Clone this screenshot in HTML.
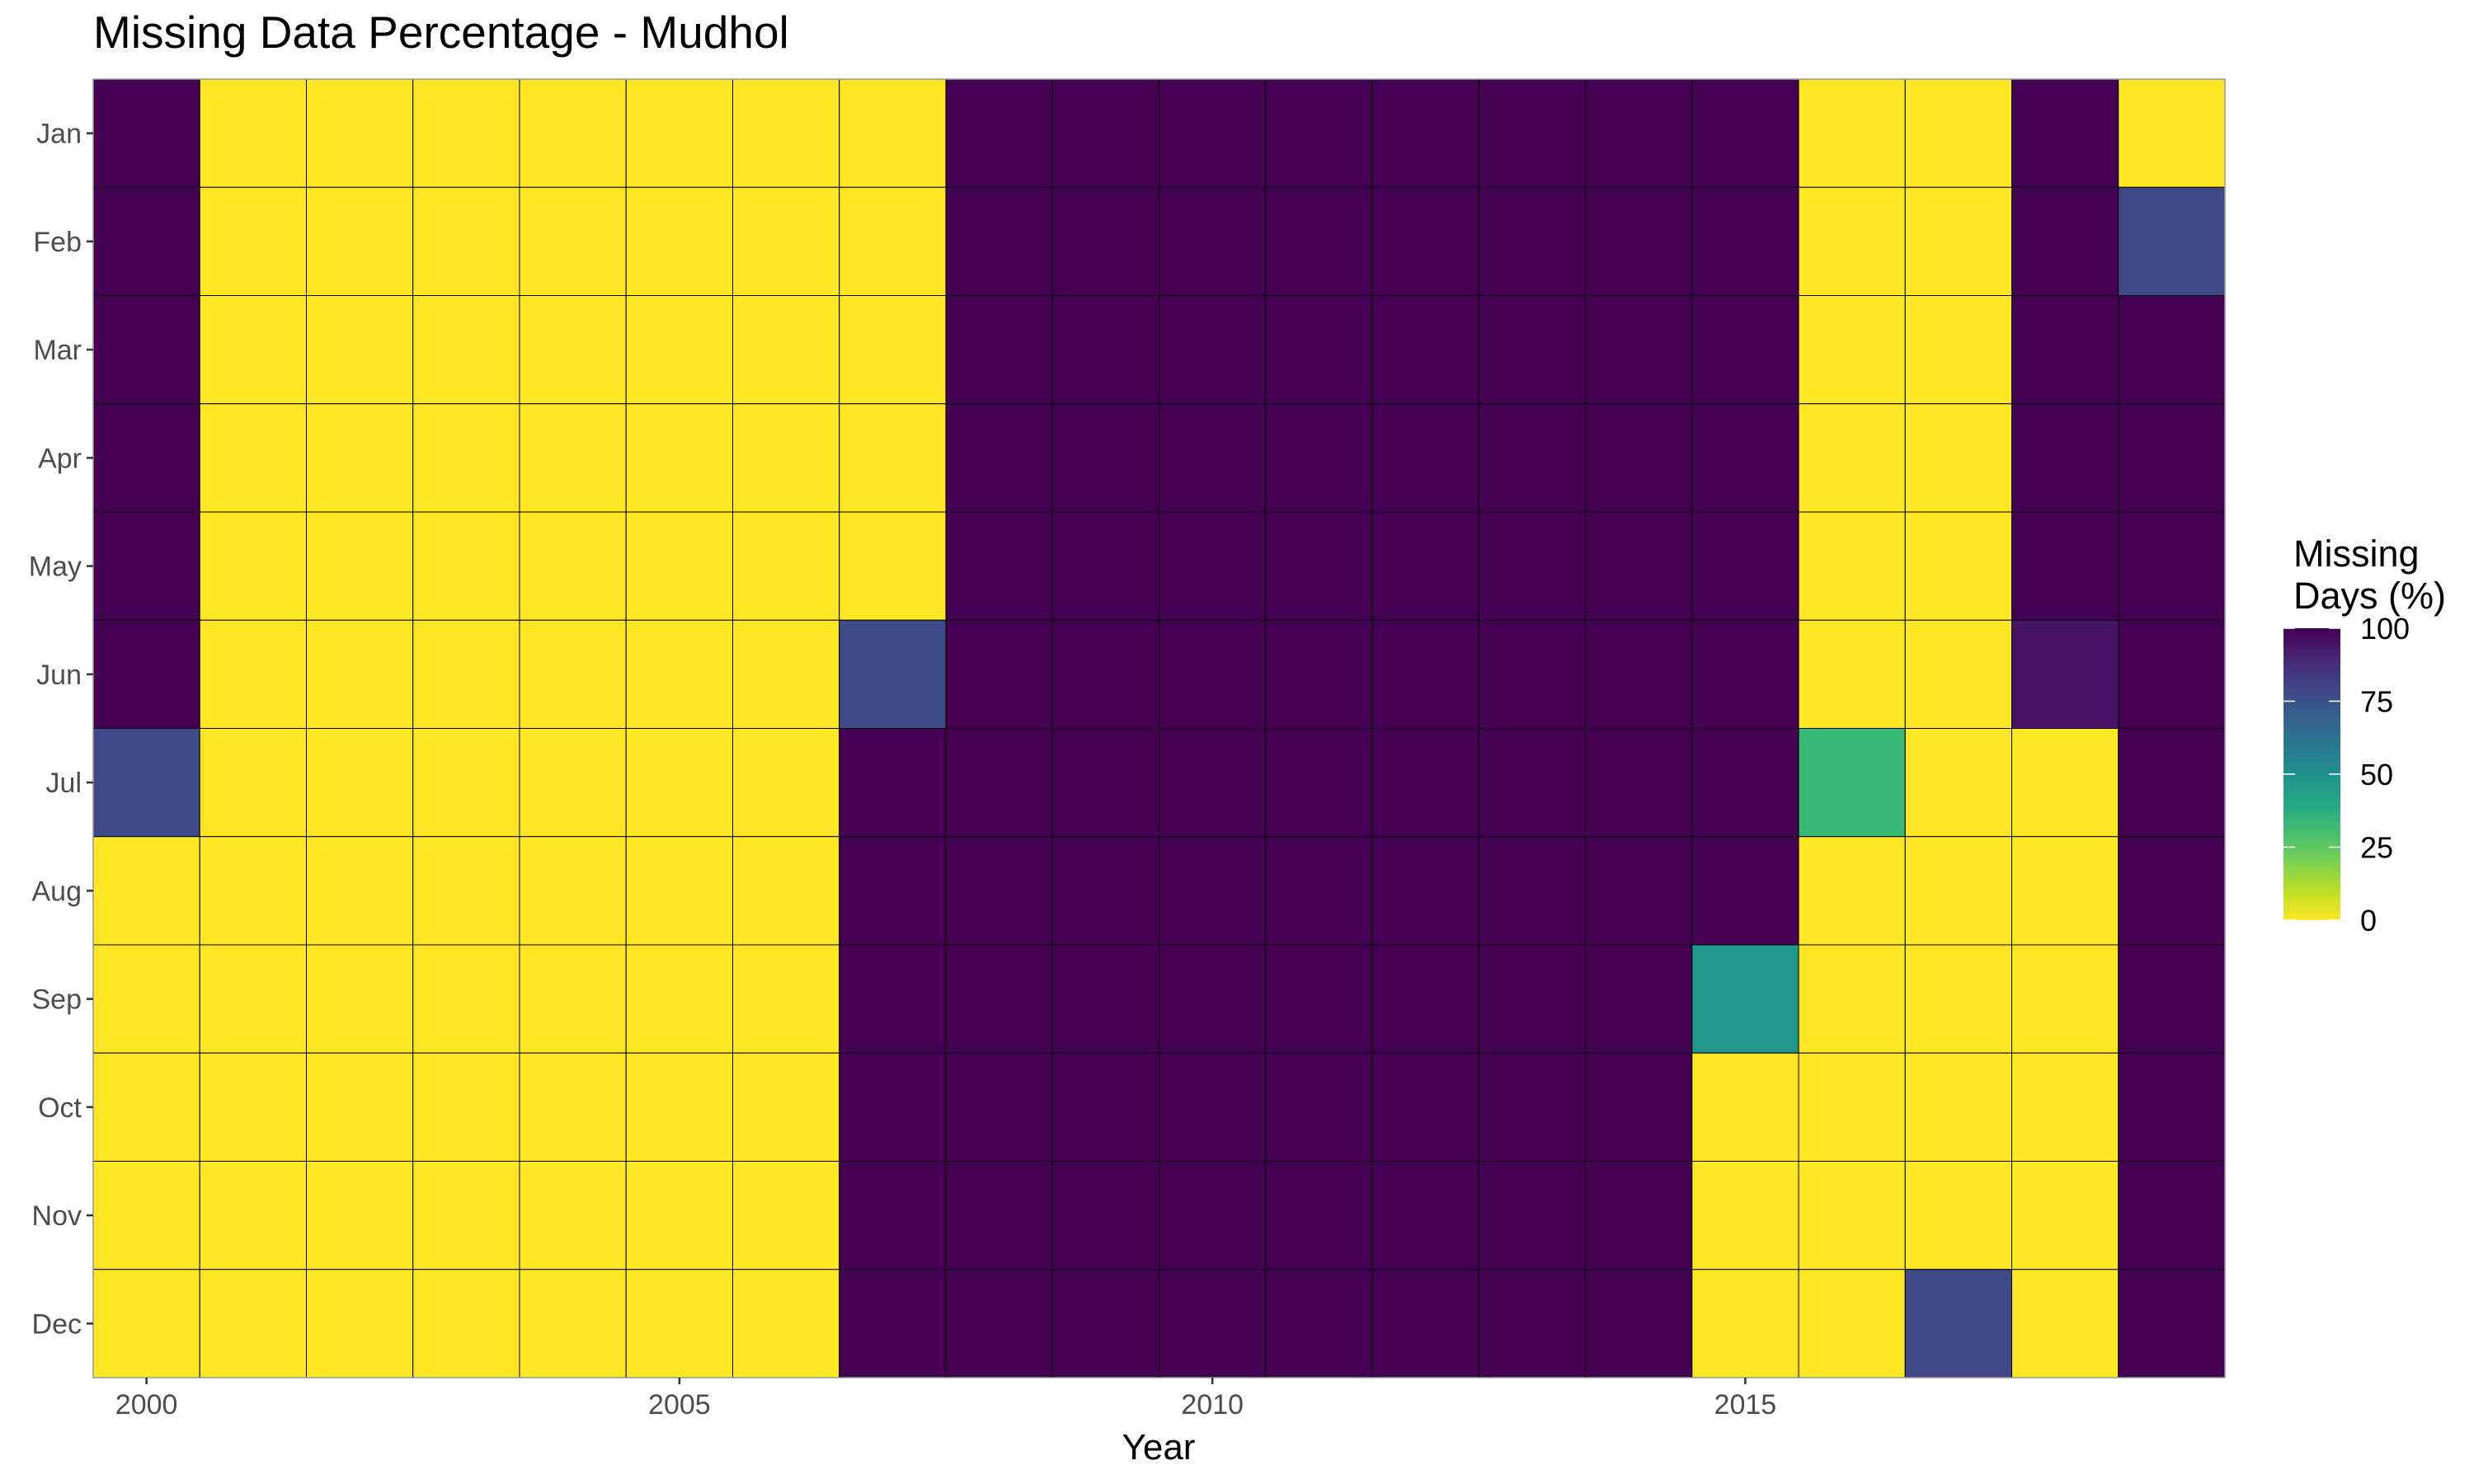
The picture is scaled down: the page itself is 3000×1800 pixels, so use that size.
<!DOCTYPE html>
<html><head><meta charset="utf-8"><style>
body{margin:0;background:#fff;}
svg{display:block;font-family:"Liberation Sans",Arial,sans-serif;}
</style></head><body>
<svg id="chart" width="3000" height="1800" viewBox="0 0 3000 1800">
<text x="113" y="58" font-size="55" fill="#000">Missing Data Percentage - Mudhol</text>
<g id="cells"></g>
<g id="axes"></g>
<text x="1405" y="1770" font-size="44" text-anchor="middle" fill="#000">Year</text>
<g id="legend">
<defs><linearGradient id="vir" x1="0" y1="1" x2="0" y2="0"></linearGradient></defs>
<text x="2781" y="687" font-size="45" fill="#000">Missing</text>
<text x="2781" y="738" font-size="45" fill="#000">Days (%)</text>
</g>
</svg>
<script>
const years=[2000,2001,2002,2003,2004,2005,2006,2007,2008,2009,2010,2011,2012,2013,2014,2015,2016,2017,2018,2019];
const months=["Jan","Feb","Mar","Apr","May","Jun","Jul","Aug","Sep","Oct","Nov","Dec"];
const xTicks=[2000,2005,2010,2015];
const legendTicks=[0,25,50,75,100];
// values per year, Jan..Dec
const v2000=[100,100,100,100,100,100,78,0,0,0,0,0];
const v2001=[0,0,0,0,0,0,0,0,0,0,0,0];
const v2002=[0,0,0,0,0,0,0,0,0,0,0,0];
const v2003=[0,0,0,0,0,0,0,0,0,0,0,0];
const v2004=[0,0,0,0,0,0,0,0,0,0,0,0];
const v2005=[0,0,0,0,0,0,0,0,0,0,0,0];
const v2006=[0,0,0,0,0,0,0,0,0,0,0,0];
const v2007=[0,0,0,0,0,77,100,100,100,100,100,100];
const v2008=[100,100,100,100,100,100,100,100,100,100,100,100];
const v2009=[100,100,100,100,100,100,100,100,100,100,100,100];
const v2010=[100,100,100,100,100,100,100,100,100,100,100,100];
const v2011=[100,100,100,100,100,100,100,100,100,100,100,100];
const v2012=[100,100,100,100,100,100,100,100,100,100,100,100];
const v2013=[100,100,100,100,100,100,100,100,100,100,100,100];
const v2014=[100,100,100,100,100,100,100,100,100,100,100,100];
const v2015=[100,100,100,100,100,100,100,100,48,0,0,0];
const v2016=[0,0,0,0,0,0,33,0,0,0,0,0];
const v2017=[0,0,0,0,0,0,0,0,0,0,0,78];
const v2018=[100,100,100,100,100,95,0,0,0,0,0,0];
const v2019=[0,78,100,100,100,100,100,100,100,100,100,100];
const values=[v2000,v2001,v2002,v2003,v2004,v2005,v2006,v2007,v2008,v2009,v2010,v2011,v2012,v2013,v2014,v2015,v2016,v2017,v2018,v2019];

const NS="http://www.w3.org/2000/svg";
const PX0=113,PX1=2698,PY0=96,PY1=1671;
const cw=(PX1-PX0)/years.length, ch=(PY1-PY0)/months.length;
const xScale=y=>PX0+(y-years[0])*cw;
const yScale=i=>PY0+i*ch;
const stops=[[0,"#fde725"],[0.1,"#bddf26"],[0.2,"#7ad151"],[0.3,"#44bf70"],[0.4,"#22a884"],[0.5,"#21918c"],[0.6,"#2a788e"],[0.7,"#355f8d"],[0.8,"#414487"],[0.9,"#482475"],[1,"#440154"]];
function hex(h){return [1,3,5].map(i=>parseInt(h.substr(i,2),16));}
function color(v){
  const t=Math.max(0,Math.min(1,v/100));
  for(let i=1;i<stops.length;i++){
    if(t<=stops[i][0]){
      const a=stops[i-1],b=stops[i],f=(t-a[0])/(b[0]-a[0]);
      const ca=hex(a[1]),cb=hex(b[1]);
      return "rgb("+ca.map((c,k)=>Math.round(c+(cb[k]-c)*f)).join(",")+")";
    }
  }
  return stops[stops.length-1][1];
}
const cells=document.getElementById("cells");
years.forEach((yr,yi)=>{
  months.forEach((m,mi)=>{
    const r=document.createElementNS(NS,"rect");
    r.setAttribute("x",xScale(yr));
    r.setAttribute("y",yScale(mi));
    r.setAttribute("width",cw);
    r.setAttribute("height",ch);
    r.setAttribute("fill",color(values[yi][mi]));
    r.setAttribute("stroke","#000");
    r.setAttribute("stroke-width","1");
    
    
    cells.appendChild(r);
  });
});
const axes=document.getElementById("axes");
const border=document.createElementNS(NS,"rect");
border.setAttribute("x",PX0);border.setAttribute("y",PY0);
border.setAttribute("width",PX1-PX0);border.setAttribute("height",PY1-PY0);
border.setAttribute("fill","none");border.setAttribute("stroke","#999");border.setAttribute("stroke-width","1.5");


axes.appendChild(border);
months.forEach((m,mi)=>{
  const cy=yScale(mi)+ch/2;
  const t=document.createElementNS(NS,"line");
  t.setAttribute("x1",PX0-8);t.setAttribute("x2",PX0);t.setAttribute("y1",cy);t.setAttribute("y2",cy);
  t.setAttribute("stroke","#333");t.setAttribute("stroke-width","2.5");
  
  
  axes.appendChild(t);
  const l=document.createElementNS(NS,"text");
  l.setAttribute("x",PX0-14);l.setAttribute("y",cy+12);l.setAttribute("text-anchor","end");
  l.setAttribute("font-size","34");l.setAttribute("fill","#4d4d4d");
  l.textContent=m;
  
  
  axes.appendChild(l);
});
xTicks.forEach(yr=>{
  const cx=xScale(yr)+cw/2;
  const t=document.createElementNS(NS,"line");
  t.setAttribute("x1",cx);t.setAttribute("x2",cx);t.setAttribute("y1",PY1);t.setAttribute("y2",PY1+8);
  t.setAttribute("stroke","#333");t.setAttribute("stroke-width","2.5");
  
  
  axes.appendChild(t);
  const l=document.createElementNS(NS,"text");
  l.setAttribute("x",cx);l.setAttribute("y",PY1+44);l.setAttribute("text-anchor","middle");
  l.setAttribute("font-size","34");l.setAttribute("fill","#4d4d4d");
  l.textContent=yr;
  
  
  axes.appendChild(l);
});
// legend
const grad=document.getElementById("vir");
stops.forEach(s=>{
  const st=document.createElementNS(NS,"stop");
  st.setAttribute("offset",s[0]);st.setAttribute("stop-color",s[1]);
  grad.appendChild(st);
});
const LX=2769,LW=69,LY0=762,LY1=1116;
const legend=document.getElementById("legend");
const bar=document.createElementNS(NS,"rect");
bar.setAttribute("x",LX);bar.setAttribute("y",LY0);bar.setAttribute("width",LW);bar.setAttribute("height",LY1-LY0);
bar.setAttribute("fill","url(#vir)");


legend.appendChild(bar);
legendTicks.forEach(v=>{
  const y=LY1-(v/100)*(LY1-LY0);
  [[LX,LX+14],[LX+LW-14,LX+LW]].forEach(p=>{
    const t=document.createElementNS(NS,"line");
    t.setAttribute("x1",p[0]);t.setAttribute("x2",p[1]);t.setAttribute("y1",y);t.setAttribute("y2",y);
    t.setAttribute("stroke","#fff");t.setAttribute("stroke-width","1.5");
    
    
    legend.appendChild(t);
  });
  const l=document.createElementNS(NS,"text");
  l.setAttribute("x",2862);l.setAttribute("y",y+13);
  l.setAttribute("font-size","36");l.setAttribute("fill","#000");
  l.textContent=v;
  
  
  legend.appendChild(l);
});
</script>
</body></html>
